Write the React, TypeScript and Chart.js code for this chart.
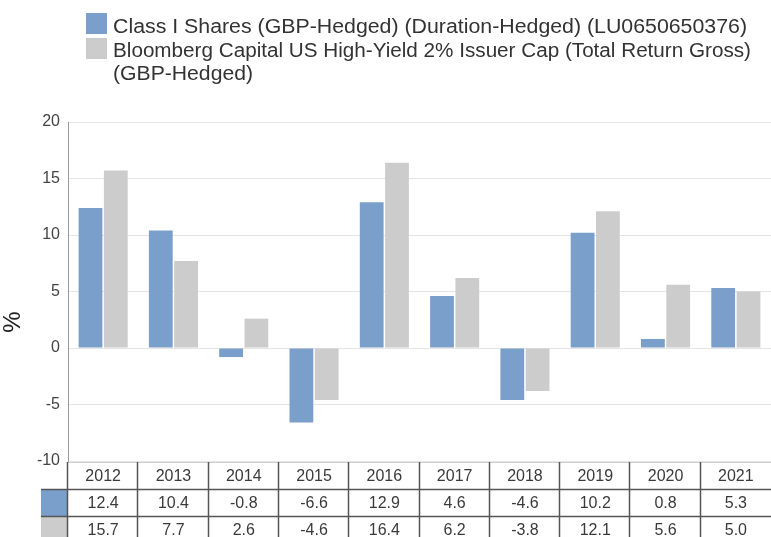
import React, { useEffect, useRef } from "react";
import { Chart, registerables } from "chart.js";

Chart.register(...registerables);

const years = ["2012", "2013", "2014", "2015", "2016", "2017", "2018", "2019", "2020", "2021"];
const classIShares = [12.4, 10.4, -0.8, -6.6, 12.9, 4.6, -4.6, 10.2, 0.8, 5.3];
const benchmark = [15.7, 7.7, 2.6, -4.6, 16.4, 6.2, -3.8, 12.1, 5.6, 5.0];
const seriesNames = [
  "Class I Shares (GBP-Hedged) (Duration-Hedged) (LU0650650376)",
  "Bloomberg Capital US High-Yield 2% Issuer Cap (Total Return Gross) (GBP-Hedged)",
];
const legendLines = [
  ["Class I Shares (GBP-Hedged) (Duration-Hedged) (LU0650650376)"],
  ["Bloomberg Capital US High-Yield 2% Issuer Cap (Total Return Gross)", "(GBP-Hedged)"],
];
const yMin = -10;
const yMax = 20;
const yStep = 5;
const yTitle = "%";

const BLUE = "#7a9fcb";
const GRAY = "#cccccc";
const TEXT = "#3a3a3a";
const FONT = "'Liberation Sans', Arial, sans-serif";

function stretchText(ctx: any, text: string, x: number, y: number, target: number) {
  const w = ctx.measureText(text).width;
  ctx.save();
  ctx.translate(x, y);
  ctx.scale(target / w, 1);
  ctx.fillText(text, 0, 0);
  ctx.restore();
}

const legendPlugin = {
  id: "customLegend",
  afterDraw(chart: any) {
    const { ctx } = chart;
    ctx.save();
    ctx.fillStyle = BLUE;
    ctx.fillRect(86, 13, 21, 21);
    ctx.fillStyle = GRAY;
    ctx.fillRect(86, 38, 21, 21);
    ctx.fillStyle = "#333";
    ctx.font = `19.5px ${FONT}`;
    ctx.textAlign = "left";
    ctx.textBaseline = "alphabetic";
    stretchText(ctx, legendLines[0][0], 113, 33, 634);
    stretchText(ctx, legendLines[1][0], 113, 56.5, 638);
    stretchText(ctx, legendLines[1][1], 113, 80, 140);
    ctx.restore();
  },
};

const tablePlugin = {
  id: "dataTable",
  afterDraw(chart: any) {
    const { ctx, chartArea, scales } = chart;
    const x = scales.x;
    const step = x.getPixelForValue(1) - x.getPixelForValue(0);
    const top = chartArea.bottom + 1;
    const rowH = 27;
    const right = chart.width;
    const swLeft = 41;
    const bottom = chart.height;
    ctx.save();
    ctx.fillStyle = BLUE;
    ctx.fillRect(swLeft, top + rowH, chartArea.left - swLeft - 1, rowH);
    ctx.fillStyle = GRAY;
    ctx.fillRect(swLeft, top + 2 * rowH + 1, chartArea.left - swLeft - 1, rowH);
    ctx.strokeStyle = "#cfcfcf";
    ctx.lineWidth = 1;
    ctx.beginPath();
    ctx.moveTo(chartArea.left, top + 0.5);
    ctx.lineTo(right, top + 0.5);
    ctx.stroke();
    ctx.strokeStyle = "#555555";
    ctx.lineWidth = 1.5;
    ctx.beginPath();
    for (let r = 1; r <= 2; r++) {
      const yy = top + r * rowH + 0.5;
      ctx.moveTo(swLeft, yy);
      ctx.lineTo(right, yy);
    }
    for (let i = 0; i < years.length; i++) {
      const xx = Math.round(x.getPixelForValue(i) - step / 2) - 0.5;
      ctx.moveTo(xx, top);
      ctx.lineTo(xx, bottom);
    }
    ctx.stroke();
    ctx.fillStyle = TEXT;
    ctx.font = `16px ${FONT}`;
    ctx.textAlign = "center";
    ctx.textBaseline = "middle";
    for (let i = 0; i < years.length; i++) {
      const cx = x.getPixelForValue(i);
      ctx.fillText(years[i], cx, top + rowH / 2 + 1);
      ctx.fillText(classIShares[i].toFixed(1), cx, top + rowH * 1.5 + 1);
      ctx.fillText(benchmark[i].toFixed(1), cx, top + rowH * 2.5 + 1);
    }
    ctx.save();
    ctx.translate(13, 322);
    ctx.rotate(-Math.PI / 2);
    ctx.font = `24px ${FONT}`;
    ctx.fillStyle = "#222";
    ctx.fillText(yTitle, 0, 0);
    ctx.restore();
    ctx.restore();
  },
};

export default function App() {
  const ref = useRef<HTMLCanvasElement>(null);
  useEffect(() => {
    document.body.style.margin = "0";
    const chart = new Chart(ref.current!, {
      type: "bar",
      data: {
        labels: years,
        datasets: [
          {
            label: seriesNames[0],
            data: classIShares,
            backgroundColor: BLUE,
            barPercentage: 0.94,
            categoryPercentage: 0.72,
          },
          {
            label: seriesNames[1],
            data: benchmark,
            backgroundColor: GRAY,
            barPercentage: 0.94,
            categoryPercentage: 0.72,
          },
        ],
      },
      options: {
        animation: false,
        responsive: false,
        layout: { padding: { top: 122, bottom: 76, left: 0, right: 0 } },
        plugins: { legend: { display: false }, tooltip: { enabled: false } },
        scales: {
          x: { display: false },
          y: {
            min: yMin,
            max: yMax,
            afterFit: (s: any) => {
              s.width = 68;
            },
            ticks: {
              stepSize: yStep,
              color: "#444",
              font: { family: FONT, size: 16 },
              padding: 8,
            },
            grid: { color: "#e4e4e4", drawTicks: false },
            border: { color: "#999999", width: 1 },
          },
        },
      },
      plugins: [tablePlugin, legendPlugin],
    });
    return () => chart.destroy();
  }, []);

  return (
    <div style={{ position: "relative", width: 771, height: 537, overflow: "hidden" }}>
      <canvas ref={ref} width={771} height={537} style={{ position: "absolute", left: 0, top: 0 }} />
    </div>
  );
}
